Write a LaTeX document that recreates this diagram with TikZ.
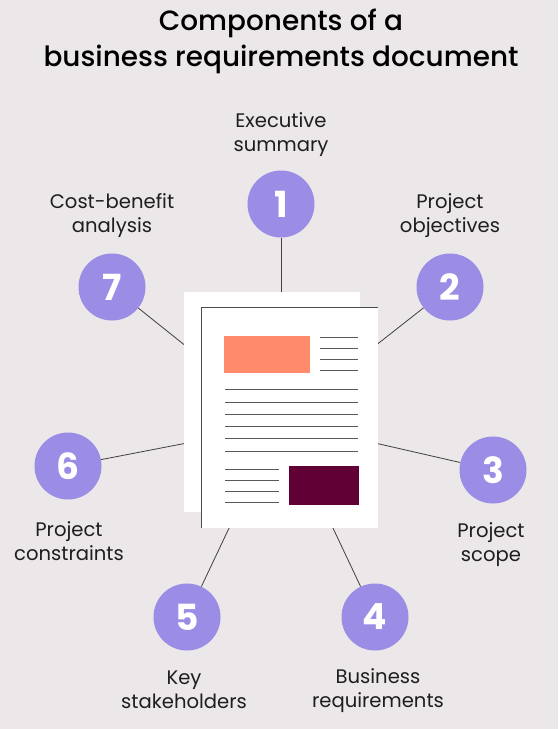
\documentclass[tikz,border=0pt]{standalone}
\usepackage{fontspec}
\setmainfont{Poppins}
\newfontfamily\ttlfont{Poppins Medium}
\definecolor{bgc}{HTML}{ECE7E8}
\definecolor{purp}{HTML}{9B8CE6}
\definecolor{coral}{HTML}{FF8A6C}
\definecolor{plum}{HTML}{610035}
\definecolor{inkc}{HTML}{1E1E1E}
\tikzset{
 x=1pt,y=-1pt,
 numc/.style={circle,fill=purp,minimum size=67pt,inner sep=0pt,text=white,font=\fontsize{36}{36}\selectfont\bfseries},
 lab/.style={align=center,text=inkc,font=\fontsize{19.6}{24}\selectfont,inner sep=0pt},
 ttl/.style={align=center,text=black,font=\ttlfont\fontsize{27.9}{36}\selectfont,inner sep=0pt},
 conn/.style={draw=black!75,line width=0.8pt},
 sheet/.style={fill=white,draw=none,inner sep=0pt,minimum width=176pt,minimum height=220pt},
 txl/.style={draw=black!65,line width=0.9pt},
 box/.style={inner sep=0pt}
}
\begin{document}
\begin{tikzpicture}
\useasboundingbox (0,0) rectangle (558,729);
\fill[bgc] (0,0) rectangle (558,729);
\node[ttl] (title) at (281,41) {Components of a\\business requirements document};
\node[numc] (c1) at (281,204) {1};
\node[numc] (c2) at (450,287) {2};
\node[numc] (c3) at (493,470) {3};
\node[numc] (c4) at (375,617) {4};
\node[numc] (c5) at (187,617) {5};
\node[numc] (c6) at (68,466) {6};
\node[numc] (c7) at (112,287) {7};
\coordinate (e1) at (281,295);
\coordinate (e2) at (375,346);
\coordinate (e3) at (375,443);
\coordinate (e4) at (332,526);
\coordinate (e5) at (230,526);
\coordinate (e6) at (187,443);
\coordinate (e7) at (187,347);
\foreach \i in {1,...,7}{\draw[conn] (c\i) -- (e\i);}
\node[lab] (l1) at (281,135) {Executive\\summary};
\node[lab] (l2) at (450,216) {Project\\objectives};
\node[lab] (l3) at (491,544.5) {Project\\scope};
\node[lab] (l4) at (378,690.5) {Business\\requirements};
\node[lab] (l5) at (184,690) {Key\\stakeholders};
\node[lab] (l6) at (69,541.5) {Project\\constraints};
\node[lab] (l7) at (112,215.5) {Cost-benefit\\analysis};
\node[sheet] (back) at (272,402) {};
\node[sheet] (front) at (290,418) {};
\draw[black!70,line width=0.9pt] (front.south west) -- (front.north west) -- (front.north east);
\node[box,fill=coral,minimum width=86pt,minimum height=37pt] (orange) at (266.5,354.5) {};
\node[box,fill=plum,minimum width=70pt,minimum height=39.5pt] (maroon) at (323.5,485.7) {};
\foreach \y in {337.5,348.3,359.3,370}{\draw[txl] (319.5,\y) -- (358,\y);}
\foreach \y in {389.7,402,414.3,426.3,438.7,451}{\draw[txl] (225,\y) -- (358,\y);}
\foreach \y in {469,480.3,491,502}{\draw[txl] (225,\y) -- (279,\y);}
\end{tikzpicture}
\end{document}
